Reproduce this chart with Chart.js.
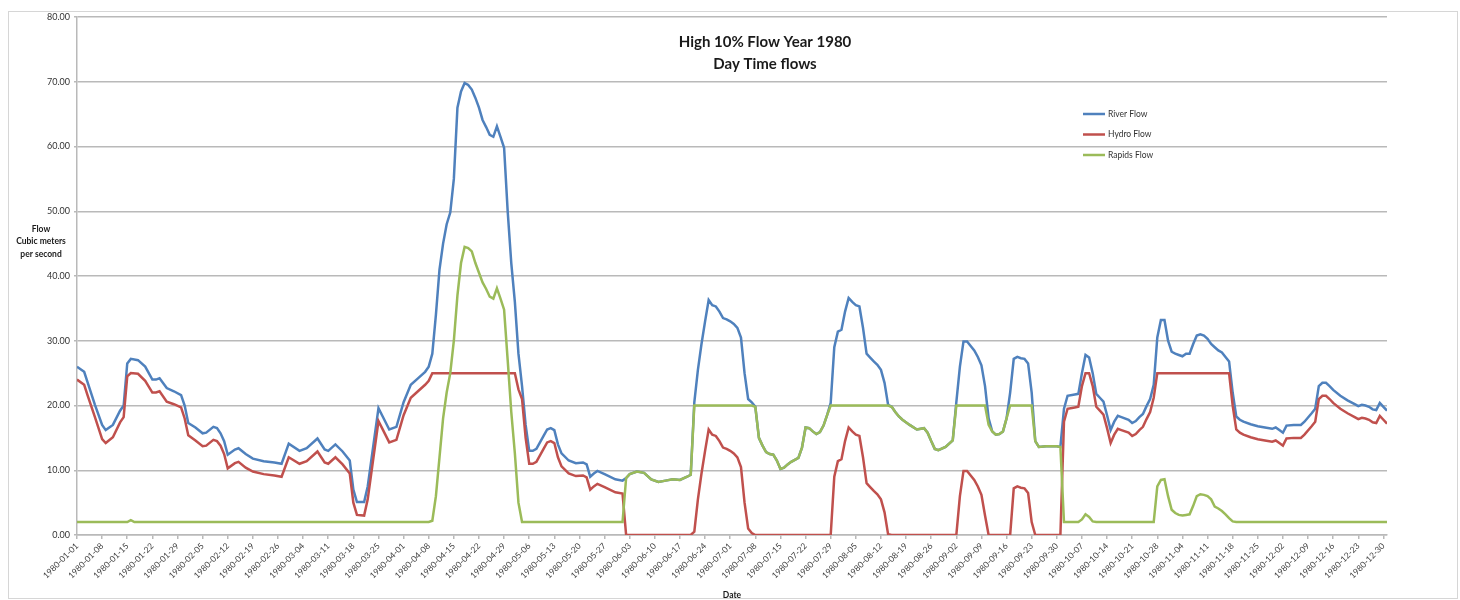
<!DOCTYPE html>
<html>
<head>
<meta charset="utf-8">
<script src="https://cdn.jsdelivr.net/npm/chart.js@4.4.1/dist/chart.umd.min.js"></script>
<style>
  body { margin: 0; background: #fff; }
  #wrap { width: 1460px; height: 600px; }
</style>
</head>
<body>
<div id="wrap"><canvas id="flowChart" width="1460" height="600"></canvas></div>
<script>
// tick labels, one every 7 days starting 1980-01-01 (day 0)
const tickLabels = [
  '1980-01-01','1980-01-08','1980-01-15','1980-01-22','1980-01-29',
  '1980-02-05','1980-02-12','1980-02-19','1980-02-26',
  '1980-03-04','1980-03-11','1980-03-18','1980-03-25',
  '1980-04-01','1980-04-08','1980-04-15','1980-04-22','1980-04-29',
  '1980-05-06','1980-05-13','1980-05-20','1980-05-27',
  '1980-06-03','1980-06-10','1980-06-17','1980-06-24',
  '1980-07-01','1980-07-08','1980-07-15','1980-07-22','1980-07-29',
  '1980-08-05','1980-08-12','1980-08-19','1980-08-26',
  '1980-09-02','1980-09-09','1980-09-16','1980-09-23','1980-09-30',
  '1980-10-07','1980-10-14','1980-10-21','1980-10-28',
  '1980-11-04','1980-11-11','1980-11-18','1980-11-25',
  '1980-12-02','1980-12-09','1980-12-16','1980-12-23','1980-12-30'
];

// [day of year, flow]
const riverFlow = [
  [0,26.0],[2,25.2],[3,23.5],[5,20.1],[7,17.0],[8,16.2],[10,17.0],[12,19.2],[13,20.0],[14,26.5],
  [15,27.2],[17,27.0],[19,26.0],[21,24.0],[22,24.0],[23,24.2],[25,22.7],[27,22.2],[29,21.6],[30,20.0],
  [31,17.3],[33,16.6],[35,15.7],[36,15.8],[38,16.7],[39,16.5],[40,15.7],[41,14.5],[42,12.4],[44,13.2],
  [45,13.4],[47,12.5],[49,11.8],[52,11.4],[55,11.2],[57,11.0],[59,14.1],[62,13.0],[64,13.4],[67,14.9],
  [69,13.2],[70,13.0],[72,14.0],[74,12.9],[76,11.5],[77,7.0],[78,5.1],[80,5.1],[81,7.5],[84,19.6],
  [85,18.5],[87,16.3],[89,16.7],[91,20.5],[93,23.2],[95,24.2],[97,25.2],[98,26.0],[99,28.0],[100,34.0],
  [101,41.0],[102,45.0],[103,48.0],[104,49.8],[105,55.0],[106,66.0],[107,68.5],[108,69.8],[109,69.5],[110,68.8],
  [111,67.5],[112,66.0],[113,64.1],[114,63.0],[115,61.8],[116,61.5],[117,63.1],[118,61.5],[119,59.8],[120,50.0],
  [121,42.0],[122,36.0],[123,28.0],[124,23.0],[125,17.0],[126,13.0],[127,13.0],[128,13.3],[130,15.3],[131,16.3],
  [132,16.5],[133,16.2],[134,14.0],[135,12.6],[137,11.5],[139,11.1],[141,11.2],[142,10.9],[143,9.0],[144,9.5],
  [145,9.9],[147,9.4],[150,8.6],[152,8.4],[153,8.8],[154,9.4],[156,9.8],[158,9.6],[160,8.6],[162,8.2],
  [164,8.4],[166,8.6],[168,8.5],[170,9.0],[171,9.3],[172,20.5],[173,25.5],[174,29.5],[175,33.0],[176,36.3],
  [177,35.5],[178,35.3],[179,34.5],[180,33.5],[181,33.3],[182,33.0],[183,32.6],[184,32.0],[185,30.5],[186,25.0],
  [187,21.0],[188,20.5],[189,19.8],[190,15.0],[191,13.8],[192,12.8],[193,12.5],[194,12.4],[195,11.5],[196,10.2],
  [197,10.4],[198,10.9],[199,11.3],[200,11.6],[201,11.9],[202,13.5],[203,16.6],[204,16.5],[205,16.0],[206,15.6],
  [207,15.9],[208,16.9],[209,18.5],[210,20.4],[211,29.0],[212,31.4],[213,31.7],[214,34.5],[215,36.6],[216,36.0],
  [217,35.5],[218,35.3],[219,32.0],[220,28.0],[221,27.4],[222,26.8],[223,26.3],[224,25.5],[225,23.5],[226,20.1],
  [227,19.8],[228,19.0],[229,18.3],[230,17.8],[232,17.0],[234,16.3],[236,16.5],[237,15.8],[238,14.5],[239,13.3],
  [240,13.1],[242,13.6],[244,14.6],[245,20.5],[246,26.0],[247,29.9],[248,29.9],[249,29.2],[250,28.5],[251,27.5],
  [252,26.2],[253,23.0],[254,18.0],[255,16.0],[256,15.5],[257,15.6],[258,16.0],[259,18.0],[260,22.0],[261,27.2],
  [262,27.5],[263,27.3],[264,27.2],[265,26.5],[266,22.0],[267,14.5],[268,13.6],[270,13.7],[273,13.7],[274,13.6],
  [275,19.5],[276,21.5],[278,21.7],[279,21.8],[280,25.0],[281,27.8],[282,27.4],[283,25.0],[284,21.8],[285,21.2],
  [286,20.6],[287,18.5],[288,16.2],[289,17.5],[290,18.4],[291,18.2],[293,17.8],[294,17.3],[295,17.6],[296,18.2],
  [297,18.7],[298,19.9],[299,21.0],[300,23.2],[301,30.5],[302,33.2],[303,33.2],[304,30.0],[305,28.3],[306,28.0],
  [307,27.8],[308,27.6],[309,28.0],[310,28.0],[311,29.5],[312,30.8],[313,31.0],[314,30.8],[315,30.3],[316,29.5],
  [317,29.0],[318,28.5],[319,28.2],[320,27.5],[321,26.8],[322,22.0],[323,18.3],[324,17.8],[325,17.5],[327,17.1],
  [329,16.8],[331,16.6],[333,16.4],[334,16.6],[335,16.2],[336,15.8],[337,16.9],[339,17.0],[341,17.0],[342,17.5],
  [344,18.8],[345,19.5],[346,23.0],[347,23.5],[348,23.5],[349,23.0],[350,22.4],[352,21.5],[354,20.8],[356,20.2],
  [357,19.9],[358,20.1],[359,20.0],[360,19.8],[361,19.4],[362,19.3],[363,20.4],[364,19.8],[365,19.2]
];

const hydroFlow = [
  [0,24.0],[2,23.2],[3,21.5],[5,18.2],[7,14.8],[8,14.2],[10,15.1],[12,17.4],[13,18.2],[14,24.5],
  [15,25.0],[17,24.9],[19,23.8],[21,22.0],[22,22.0],[23,22.2],[25,20.6],[27,20.2],[29,19.7],[30,18.0],
  [31,15.4],[33,14.6],[35,13.7],[36,13.8],[38,14.7],[39,14.5],[40,13.8],[41,12.5],[42,10.3],[44,11.1],
  [45,11.3],[47,10.4],[49,9.8],[52,9.4],[55,9.2],[57,9.0],[59,12.0],[62,11.0],[64,11.4],[67,12.9],
  [69,11.2],[70,11.0],[72,12.0],[74,10.9],[76,9.5],[77,5.0],[78,3.1],[80,3.0],[81,5.5],[84,17.6],
  [85,16.5],[87,14.3],[89,14.7],[91,18.5],[93,21.2],[95,22.2],[97,23.2],[98,23.8],[99,25.0],[122,25.0],
  [123,22.5],[124,21.0],[125,15.0],[126,11.0],[127,11.0],[128,11.3],[130,13.3],[131,14.3],[132,14.5],[133,14.2],
  [134,12.0],[135,10.6],[137,9.5],[139,9.1],[141,9.2],[142,8.9],[143,7.0],[144,7.5],[145,7.9],[147,7.4],
  [150,6.6],[152,6.4],[153,0],[171,0],[172,0.5],[173,5.5],[174,9.5],[175,13.0],[176,16.3],[177,15.5],
  [178,15.3],[179,14.5],[180,13.5],[181,13.3],[182,13.0],[183,12.6],[184,12.0],[185,10.5],[186,5.0],[187,1.0],
  [188,0.3],[189,0],[210,0],[211,9.0],[212,11.4],[213,11.7],[214,14.5],[215,16.6],[216,16.0],[217,15.5],
  [218,15.3],[219,12.0],[220,8.0],[221,7.4],[222,6.8],[223,6.3],[224,5.5],[225,3.5],[226,0.1],[227,0],
  [245,0],[246,6.0],[247,9.9],[248,9.9],[249,9.2],[250,8.5],[251,7.5],[252,6.2],[253,3.0],[254,0],
  [260,0],[261,7.2],[262,7.5],[263,7.3],[264,7.2],[265,6.5],[266,2.0],[267,0],[274,0],[275,17.5],
  [276,19.5],[278,19.7],[279,19.8],[280,23.0],[281,25.0],[282,25.0],[283,23.0],[284,19.8],[285,19.2],[286,18.6],
  [287,16.5],[288,14.2],[289,15.5],[290,16.4],[291,16.2],[293,15.8],[294,15.3],[295,15.6],[296,16.2],[297,16.7],
  [298,17.9],[299,19.0],[300,21.2],[301,25.0],[321,25.0],[322,20.0],[323,16.3],[324,15.8],[325,15.5],[327,15.1],
  [329,14.8],[331,14.6],[333,14.4],[334,14.6],[335,14.2],[336,13.8],[337,14.9],[339,15.0],[341,15.0],[342,15.5],
  [344,16.8],[345,17.5],[346,21.0],[347,21.5],[348,21.5],[349,21.0],[350,20.4],[352,19.5],[354,18.8],[356,18.2],
  [357,17.9],[358,18.1],[359,18.0],[360,17.8],[361,17.4],[362,17.3],[363,18.4],[364,17.8],[365,17.2]
];

const rapidsFlow = [
  [0,2.0],[14,2.0],[15,2.3],[16,2.0],[98,2.0],[99,2.2],[100,6.0],[101,12.0],[102,18.0],[103,22.0],
  [104,25.0],[105,30.0],[106,37.0],[107,42.0],[108,44.5],[109,44.3],[110,43.8],[111,42.0],[112,40.5],[113,39.0],
  [114,38.0],[115,36.8],[116,36.5],[117,38.1],[118,36.5],[119,34.8],[120,27.0],[121,19.0],[122,12.6],[123,5.0],
  [124,2.0],[152,2.0],[153,8.8],[154,9.4],[156,9.8],[158,9.6],[160,8.6],[162,8.2],[164,8.4],[166,8.6],
  [168,8.5],[170,9.0],[171,9.3],[172,20.0],[188,20.0],[189,19.8],[190,15.0],[191,13.8],[192,12.8],[193,12.5],
  [194,12.4],[195,11.5],[196,10.2],[197,10.4],[198,10.9],[199,11.3],[200,11.6],[201,11.9],[202,13.5],[203,16.6],
  [204,16.5],[205,16.0],[206,15.6],[207,15.9],[208,16.9],[209,18.5],[210,20.0],[226,20.0],[227,19.8],[228,19.0],
  [229,18.3],[230,17.8],[232,17.0],[234,16.3],[236,16.5],[237,15.8],[238,14.5],[239,13.3],[240,13.1],[242,13.6],
  [244,14.6],[245,20.0],[253,20.0],[254,17.0],[255,16.0],[256,15.5],[257,15.6],[258,16.0],[259,18.0],[260,20.0],
  [266,20.0],[267,14.5],[268,13.6],[270,13.7],[273,13.7],[274,13.6],[275,2.0],[279,2.0],[280,2.4],[281,3.2],
  [282,2.8],[283,2.1],[284,2.0],[300,2.0],[301,7.5],[302,8.5],[303,8.6],[304,6.0],[305,3.9],[306,3.4],
  [307,3.1],[308,3.0],[309,3.1],[310,3.2],[311,4.5],[312,6.0],[313,6.3],[314,6.2],[315,6.0],[316,5.5],
  [317,4.4],[318,4.1],[319,3.7],[320,3.2],[321,2.6],[322,2.1],[323,2.0],[365,2.0]
];

const seriesNames = ['River Flow', 'Hydro Flow', 'Rapids Flow'];
const seriesColors = ['#4f81bd', '#c0504d', '#9bbb59'];
const titleLines = ['High 10% Flow Year 1980', 'Day Time flows'];
const yTitleLines = ['Flow', 'Cubic meters', 'per second'];
const xTitle = 'Date';

const gridGray = '#b9b9b9';
const fontFam = 'Lato, "Liberation Sans", sans-serif';

const toPoints = arr => arr.map(p => ({ x: p[0], y: p[1] }));

// titles, axis titles, legend and outer frame drawn on the canvas
const extraText = {
  id: 'extraText',
  afterDraw(chart) {
    const ctx = chart.ctx;
    const area = chart.chartArea;
    ctx.save();

    ctx.strokeStyle = '#d6d6d6';
    ctx.lineWidth = 1;
    ctx.strokeRect(8.5, 11.5, 1449, 587);

    ctx.fillStyle = '#1a1a1a';
    ctx.textAlign = 'center';
    ctx.textBaseline = 'middle';
    ctx.font = 'bold 15px ' + fontFam;
    titleLines.forEach((t, i) => ctx.fillText(t, 765, 42 + i * 22));

    ctx.font = 'bold 8.5px ' + fontFam;
    yTitleLines.forEach((t, i) => ctx.fillText(t, 41, 229 + i * 12.5));
    ctx.fillText(xTitle, (area.left + area.right) / 2, 595);

    // legend
    ctx.textAlign = 'left';
    ctx.font = '8.5px ' + fontFam;
    seriesNames.forEach((name, i) => {
      const y = 114 + i * 20.5;
      ctx.strokeStyle = seriesColors[i];
      ctx.lineWidth = 2.5;
      ctx.beginPath();
      ctx.moveTo(1083, y);
      ctx.lineTo(1105, y);
      ctx.stroke();
      ctx.fillStyle = '#333';
      ctx.fillText(name, 1108, y);
    });
    ctx.restore();
  }
};

const lineSet = (i, data, order) => ({
  label: seriesNames[i],
  data: toPoints(data),
  borderColor: seriesColors[i],
  backgroundColor: seriesColors[i],
  borderWidth: 2.5,
  pointRadius: 0,
  tension: 0,
  order: order
});

const flowChart = new Chart(document.getElementById('flowChart'), {
  type: 'line',
  data: {
    datasets: [
      lineSet(0, riverFlow, 3),
      lineSet(1, hydroFlow, 2),
      lineSet(2, rapidsFlow, 1)
    ]
  },
  options: {
    responsive: false,
    animation: false,
    devicePixelRatio: 1,
    layout: { padding: { left: 0, top: 17, right: 73, bottom: 0 } },
    plugins: {
      legend: { display: false },
      tooltip: { enabled: false }
    },
    scales: {
      x: {
        type: 'linear',
        min: 0,
        max: 365,
        afterBuildTicks: scale => {
          scale.ticks = tickLabels.map((l, i) => ({ value: i * 7 }));
        },
        afterFit: scale => { scale.height = 65; },
        grid: { drawOnChartArea: false, color: gridGray, tickLength: 4, lineWidth: 1.5 },
        border: { color: gridGray, width: 1.5 },
        ticks: {
          autoSkip: false,
          minRotation: 45,
          maxRotation: 45,
          padding: 2,
          color: '#404040',
          font: { size: 8.5, family: fontFam },
          callback: (v, i) => tickLabels[i]
        }
      },
      y: {
        min: 0,
        max: 80,
        afterFit: scale => { scale.width = 77; },
        grid: { color: gridGray, tickLength: 3, lineWidth: 1.5 },
        border: { color: gridGray, width: 1.5 },
        ticks: {
          stepSize: 10,
          padding: 4,
          color: '#333',
          font: { size: 9, family: fontFam },
          callback: v => v.toFixed(2)
        }
      }
    }
  },
  plugins: [extraText]
});
</script>
</body>
</html>
